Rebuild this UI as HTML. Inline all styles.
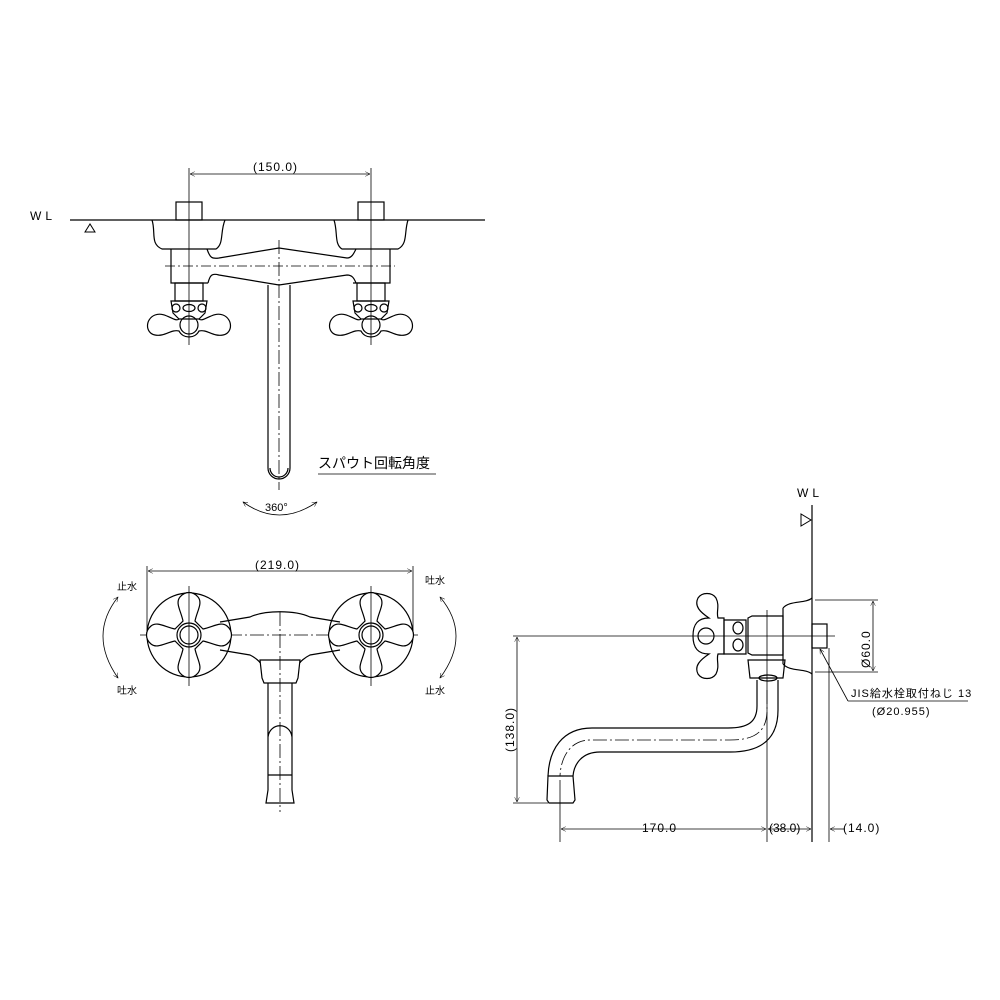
<!DOCTYPE html>
<html><head><meta charset="utf-8"><style>
html,body{margin:0;padding:0;background:#fff}
svg{display:block}
text{font-family:"Liberation Sans","Noto Sans CJK JP",sans-serif;fill:#000}
</style></head><body>
<svg width="1000" height="1000" viewBox="0 0 1000 1000" xmlns="http://www.w3.org/2000/svg" fill="none" stroke="#000" stroke-width="1.2">
<defs>
<marker id="a" viewBox="0 0 10 10" refX="10" refY="5" markerWidth="9" markerHeight="6" orient="auto-start-reverse"><path d="M0,0 L10,5 L0,10" stroke="#000" fill="none" stroke-width="1"/></marker>
<g id="handleTop">
  <path d="M-14,-42 L14,-42 L14,-24 L-14,-24 Z"/>
  <path d="M-18,-24 L18,-24 L16,-12 L10,-6 L-10,-6 L-16,-12 Z"/>
  <circle cx="-13" cy="-17" r="4"/><circle cx="13" cy="-17" r="4"/><ellipse cx="0" cy="-17" rx="6" ry="3.5"/>
  <path d="M-10,-6 C-14,-2 -24,-14 -34,-10 C-44,-6 -44,8 -34,10 C-24,12 -18,4 -10,6 C-6,14 6,14 10,6 C18,4 24,12 34,10 C44,8 44,-6 34,-10 C24,-14 14,-2 10,-6"/>
  <circle cx="0" cy="0" r="9"/>
</g>
<g id="handleFront">
  <circle r="42"/>
  <path d="M-6,-14 C-8,-24 -14,-32 -9,-38 C-4,-44 4,-44 9,-38 C14,-32 8,-24 6,-14 Q10,-10 14,-6 C24,-8 32,-14 38,-9 C44,-4 44,4 38,9 C32,14 24,8 14,6 Q10,10 6,14 C8,24 14,32 9,38 C4,44 -4,44 -9,38 C-14,32 -8,24 -6,14 Q-10,10 -14,6 C-24,8 -32,14 -38,9 C-44,4 -44,-4 -38,-9 C-32,-14 -24,-8 -14,-6 Q-10,-10 -6,-14 Z" fill="#fff"/>
  <circle r="12"/><circle r="9"/>
</g>
</defs>

<!-- ===== TOP VIEW ===== -->
<text x="30" y="220" font-size="12" stroke="none" letter-spacing="4">WL</text>
<line x1="70" y1="220" x2="485" y2="220"/>
<path d="M85,232 L95,232 L90,224 Z" stroke-width="1"/>
<line x1="189" y1="168" x2="189" y2="345" stroke-width="0.8"/>
<line x1="371" y1="168" x2="371" y2="345" stroke-width="0.8"/>
<line x1="190" y1="174" x2="370" y2="174" marker-start="url(#a)" marker-end="url(#a)" stroke-width="0.8"/>
<text x="253" y="171" font-size="12" stroke="none" letter-spacing="1">(150.0)</text>
<rect x="176" y="202" width="26" height="18"/><rect x="358" y="202" width="26" height="18"/>
<path d="M152,220 C156,232 150,244 162,249 L216,249 C224,244 220,232 225,220"/>
<path d="M334,220 C338,232 334,244 342,249 L398,249 C408,244 404,232 408,220"/>
<path d="M171,249 L171,283 L208,283 M207,249 C210,258 212,259 219,258 L279,248 L347,258 C352,258 354,253 356,249 M390,249 L390,283 L353,283 M208,283 C210,275 212,273 219,275 L279,285 L347,275 C352,275 354,278 356,283"/>
<line x1="165" y1="266" x2="395" y2="266" stroke-dasharray="10,3,2,3" stroke-width="0.8"/>
<line x1="279" y1="240" x2="279" y2="490" stroke-dasharray="14,3,2,3" stroke-width="0.8"/>
<path d="M268,285 L268,468 A11,11 0 0 0 290,468 L290,285"/>
<path d="M270,468 A9,9 0 0 0 288,468"/>
<use href="#handleTop" x="189" y="325"/>
<use href="#handleTop" x="371" y="325"/>
<text x="318" y="468" font-size="14" stroke="none">スパウト回転角度</text>
<line x1="318" y1="474" x2="436" y2="474" stroke-width="0.8"/>
<path d="M243,502 Q279,528 317,502" marker-start="url(#a)" marker-end="url(#a)" stroke-width="0.8"/>
<text x="265" y="511" font-size="11" stroke="none">360°</text>

<!-- ===== FRONT VIEW ===== -->
<line x1="147" y1="566" x2="147" y2="635" stroke-width="0.8"/>
<line x1="413" y1="566" x2="413" y2="635" stroke-width="0.8"/>
<line x1="148" y1="571" x2="412" y2="571" marker-start="url(#a)" marker-end="url(#a)" stroke-width="0.8"/>
<text x="255" y="569" font-size="12" stroke="none" letter-spacing="1">(219.0)</text>
<line x1="140" y1="635" x2="420" y2="635" stroke-dasharray="14,3,2,3" stroke-width="0.8"/>
<path d="M220,622 L250,617 C265,610 295,610 310,617 L340,622"/>
<path d="M220,650 L250,655 C256,658 260,662 260,663 M340,650 L310,655 C304,658 300,662 300,663"/>
<path d="M260,660 L300,660 L298,678 L296,683 L264,683 L262,678 Z"/>
<path d="M268,683 L268,790 L266,803 L294,803 L292,790 L292,683 M268,775 L292,775 M268,737 C270,722 290,722 292,737"/>
<line x1="280" y1="612" x2="280" y2="812" stroke-dasharray="14,3,2,3" stroke-width="0.8"/>
<use href="#handleFront" x="189" y="635"/>
<use href="#handleFront" x="371" y="635"/>
<line x1="189" y1="586" x2="189" y2="686" stroke-width="0.8"/>
<line x1="371" y1="586" x2="371" y2="686" stroke-width="0.8"/>
<text x="117" y="590" font-size="10" stroke="none">止水</text>
<text x="117" y="694" font-size="10" stroke="none">吐水</text>
<text x="425" y="584" font-size="10" stroke="none">吐水</text>
<text x="425" y="694" font-size="10" stroke="none">止水</text>
<path d="M118,597 Q88,635 118,678" marker-start="url(#a)" marker-end="url(#a)" stroke-width="0.8"/>
<path d="M440,597 Q472,635 440,678" marker-start="url(#a)" marker-end="url(#a)" stroke-width="0.8"/>

<!-- ===== SIDE VIEW ===== -->
<text x="797" y="497" font-size="12" stroke="none" letter-spacing="4">WL</text>
<line x1="812" y1="505" x2="812" y2="842"/>
<path d="M801,514 L801,526 L811,520 Z" stroke-width="1"/>
<line x1="513" y1="636" x2="835" y2="636" stroke-width="0.8"/>
<line x1="513" y1="803" x2="548" y2="803" stroke-width="0.8"/>
<line x1="517" y1="637" x2="517" y2="802" marker-start="url(#a)" marker-end="url(#a)" stroke-width="0.8"/>
<text x="0" y="0" font-size="12" stroke="none" transform="translate(514,752) rotate(-90)" letter-spacing="1">(138.0)</text>
<path d="M709,618 C700,612 694,606 698,598 C702,592 712,592 716,598 C720,606 716,612 718,618 L724,618 L724,654 L718,654 C716,660 720,666 716,674 C712,680 702,680 698,674 C694,666 700,660 709,654 C698,654 693,648 693,636 C693,624 698,618 709,618 Z"/>
<circle cx="706" cy="636" r="8"/>
<path d="M724,620 L746,620 L746,654 L724,654 Z"/>
<ellipse cx="738" cy="628" rx="5" ry="6"/><ellipse cx="738" cy="645" rx="5" ry="6"/>
<path d="M748,618 L752,616 L783,616 L783,655 L752,655 L748,653 Z"/>
<path d="M783,608 C790,600 805,604 812,598 M783,664 C790,672 805,668 812,674 M783,608 L783,664"/>
<rect x="812" y="624" width="15" height="24"/>
<path d="M748,660 L785,660 L783,678 L750,678 Z"/>
<ellipse cx="768" cy="678" rx="9" ry="3"/>
<line x1="767" y1="610" x2="767" y2="842" stroke-width="0.8"/>
<path d="M778,680 L778,710 C778,740 760,752 730,752 L600,752 C582,752 574,764 573,776"/>
<path d="M757,680 L757,706 C757,722 748,728 728,728 L592,728 C562,728 549,750 548,776"/>
<path d="M767,690 L767,710 C767,734 752,740 730,740 L590,740 C572,740 561,755 560,776" stroke-dasharray="14,3,2,3" stroke-width="0.8"/>
<path d="M548,776 L573,776 L575,800 L573,803 L549,803 L547,800 Z"/>
<line x1="560" y1="780" x2="560" y2="842" stroke-width="0.8"/>
<line x1="829" y1="648" x2="829" y2="842" stroke-width="0.8"/>
<line x1="561" y1="829" x2="766" y2="829" marker-start="url(#a)" marker-end="url(#a)" stroke-width="0.8"/>
<line x1="768" y1="829" x2="811" y2="829" marker-start="url(#a)" marker-end="url(#a)" stroke-width="0.8"/>
<line x1="830" y1="829" x2="845" y2="829" marker-start="url(#a)" stroke-width="0.8"/>
<text x="642" y="832" font-size="12" stroke="none" letter-spacing="1">170.0</text>
<text x="769" y="832" font-size="12" stroke="none">(38.0)</text>
<text x="843" y="832" font-size="12" stroke="none" letter-spacing="1">(14.0)</text>
<line x1="815" y1="600" x2="878" y2="600" stroke-width="0.8"/>
<line x1="815" y1="672" x2="878" y2="672" stroke-width="0.8"/>
<line x1="873" y1="601" x2="873" y2="671" marker-start="url(#a)" marker-end="url(#a)" stroke-width="0.8"/>
<text x="0" y="0" font-size="12" stroke="none" transform="translate(870,668) rotate(-90)" letter-spacing="1">Ø60.0</text>
<line x1="848" y1="701" x2="968" y2="701" stroke-width="0.8"/>
<line x1="848" y1="701" x2="820" y2="649" marker-end="url(#a)" stroke-width="0.8"/>
<text x="851" y="697" font-size="11" stroke="none" letter-spacing="1">JIS給水栓取付ねじ 13</text>
<text x="872" y="715" font-size="11" stroke="none" letter-spacing="1">(Ø20.955)</text>
</svg>
</body></html>
